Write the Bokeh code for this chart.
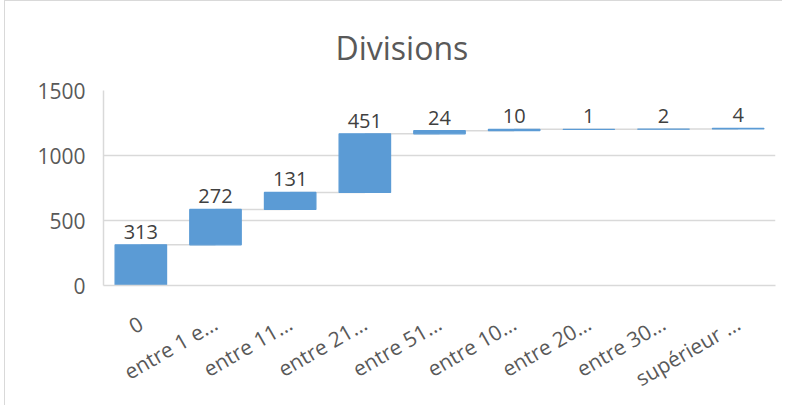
from bokeh.plotting import figure
from bokeh.models import Range1d, FixedTicker, ColumnDataSource
from bokeh.embed import file_html
from bokeh.resources import INLINE
from bokeh.core.properties import value
import math

categories = ["0", "entre 1 e…", "entre 11…", "entre 21…", "entre 51…",
              "entre 10…", "entre 20…", "entre 30…", "supérieur …"]
values = [313, 272, 131, 451, 24, 10, 1, 2, 4]
y_ticks = [0, 500, 1000, 1500]
title_text = "Divisions"

tops = []
bottoms = []
run = 0
for v in values:
    bottoms.append(run)
    run += v
    tops.append(run)

FONT = "Open Sans"
BLUE = "#5B9BD5"
GRID = "#D9D9D9"

p = figure(x_range=categories, y_range=Range1d(0, 1500), title=title_text,
           width=778, height=405, output_backend="svg", toolbar_location=None,
           min_border_left=98, min_border_right=8, min_border_bottom=120,
           min_border_top=89)
p.styles = {"border-left": "1px solid #D9D9D9", "border-top": "1px solid #D9D9D9",
            "margin-left": "4px"}

p.title.text_font = FONT
p.title.text_font_size = "32px"
p.title.text_font_style = "normal"
p.title.text_color = "#595959"
p.title.align = "left"
p.title.offset = 232
p.title.standoff = 44

p.outline_line_color = None
p.xgrid.grid_line_color = None
p.ygrid.grid_line_color = GRID
p.ygrid.grid_line_width = 1.3
p.yaxis.ticker = FixedTicker(ticks=y_ticks)

for ax in (p.xaxis, p.yaxis):
    ax.axis_line_color = GRID
    ax.axis_line_width = 1.5
    ax.major_tick_line_color = None
    ax.major_tick_out = 0
    ax.major_tick_in = 0
    ax.minor_tick_line_color = None
    ax.minor_tick_out = 0
    ax.major_label_text_font = FONT
    ax.major_label_text_color = "#595959"

p.yaxis.major_label_text_font_size = "21px"
p.yaxis.major_label_standoff = 18
p.xaxis.major_label_text_font_size = "21px"
p.xaxis.major_label_orientation = math.radians(30)
p.xaxis.major_label_standoff = 36

src = ColumnDataSource(dict(x=categories, top=tops, bottom=bottoms,
                            label=[str(v) for v in values]))

conn = ColumnDataSource(dict(x0=categories[:-1], x1=categories[1:], y=tops[:-1]))
p.segment(x0="x0", y0="y", x1="x1", y1="y", source=conn,
          line_color=GRID, line_width=1.5)

p.vbar(x="x", top="top", bottom="bottom", width=0.69, source=src,
       fill_color=BLUE, line_color=BLUE, line_width=1.2)

p.text(x="x", y="top", text="label", source=src, text_align="center",
       text_baseline="alphabetic", y_offset=-13, text_font=value(FONT),
       text_font_size="20px", text_color="#404040")

open("out.html", "w").write(file_html(p, INLINE))
